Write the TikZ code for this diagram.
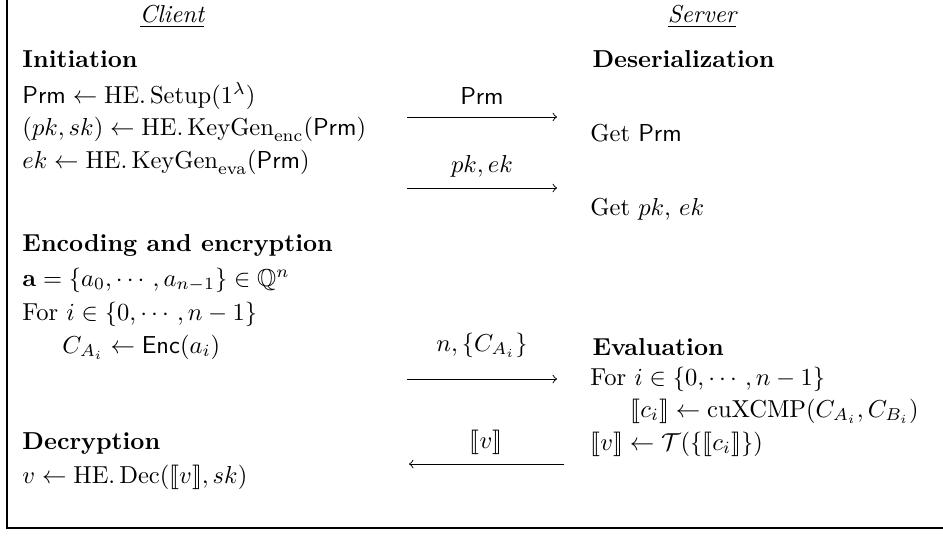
\documentclass[tikz,border=0pt]{standalone}
\usepackage{amsmath,amssymb,stmaryrd}
\usepackage{tikz}
\usetikzlibrary{arrows.meta}
\newcommand{\HEop}[1]{\mathrm{HE.}\,\mathrm{#1}}
\newcommand{\Prm}{\mathsf{Prm}}
\newcommand{\ct}[1]{\llbracket #1\rrbracket}
\tikzset{
  txt/.style={anchor=west,inner sep=0pt},
  hd/.style={anchor=center,inner sep=0pt},
  msg/.style={-to,line width=0.4pt},
  frm/.style={line width=0.9pt}
}

\begin{document}
\begin{tikzpicture}[x=0.408pt,y=-0.408pt]
\useasboundingbox (0,0) rectangle (943,537);
% frame
\coordinate (ftop) at (7,0); \coordinate (fcorner) at (7,528); \coordinate (fend) at (943,528);
\draw[frm] (ftop) -- (fcorner) -- (fend);
% headers
\node[hd] (client) at (172,17) {$\underline{\textit{Client}}$};
\node[hd] (server) at (702,17) {$\underline{\textit{Server}}$};
% client side
\node[txt] (init) at (22,59) {\textbf{Initiation}};
\node[txt] (setup) at (22,96) {$\Prm \leftarrow \HEop{Setup}(1^{\lambda})$};
\node[txt] (kgenc) at (22,129) {$(pk,sk) \leftarrow \HEop{KeyGen}_{\mathrm{enc}}(\Prm)$};
\node[txt] (kgeva) at (22,162) {$ek \leftarrow \HEop{KeyGen}_{\mathrm{eva}}(\Prm)$};
\node[txt] (encsec) at (22,245) {\textbf{Encoding and encryption}};
\node[txt] (vec) at (22,280) {$\mathbf{a}=\{a_0,\cdots,a_{n-1}\}\in\mathbb{Q}^n$};
\node[txt] (cloop) at (22,314) {For $i\in\{0,\cdots,n-1\}$};
\node[txt] (cenc) at (62,347) {$C_{A_i}\leftarrow\mathsf{Enc}(a_i)$};
\node[txt] (decsec) at (22,444) {\textbf{Decryption}};
\node[txt] (dec) at (22,477) {$v \leftarrow \HEop{Dec}(\ct{v},sk)$};
% server side
\node[txt] (deser) at (592,59) {\textbf{Deserialization}};
\node[txt] (getprm) at (590,133) {Get $\Prm$};
\node[txt] (getkeys) at (590,209) {Get $pk$, $ek$};
\node[txt] (evalsec) at (592,347) {\textbf{Evaluation}};
\node[txt] (sloop) at (590,379) {For $i\in\{0,\cdots,n-1\}$};
\node[txt] (cmp) at (630,411) {$\ct{c_i}\leftarrow\mathrm{cuXCMP}(C_{A_i},C_{B_i})$};
\node[txt] (agg) at (590,444) {$\ct{v}\leftarrow\mathcal{T}(\{\ct{c_i}\})$};
% messages
\node[hd] (m1) at (482,96) {$\Prm$};
\coordinate (m1s) at (407,117); \coordinate (m1e) at (557,117);
\draw[msg] (m1s) -- (m1e);
\node[hd] (m2) at (482,166) {$pk,ek$};
\coordinate (m2s) at (407,188); \coordinate (m2e) at (557,188);
\draw[msg] (m2s) -- (m2e);
\node[hd] (m3) at (482,345) {$n,\{C_{A_i}\}$};
\coordinate (m3s) at (407,379); \coordinate (m3e) at (557,379);
\draw[msg] (m3s) -- (m3e);
\node[hd] (m4) at (486,442) {$\ct{v}$};
\coordinate (m4s) at (564,464); \coordinate (m4e) at (409,464);
\draw[msg] (m4s) -- (m4e);
\end{tikzpicture}
\end{document}
